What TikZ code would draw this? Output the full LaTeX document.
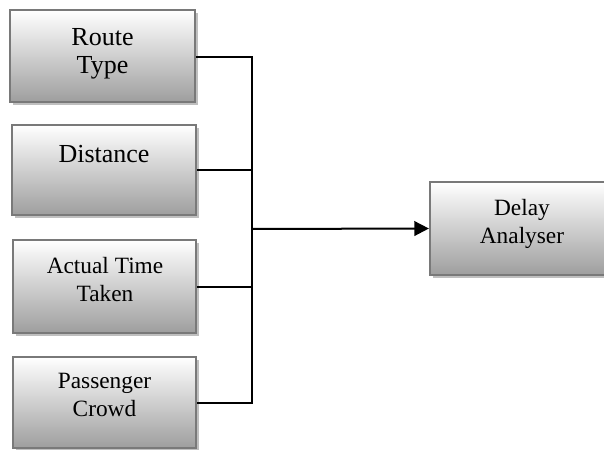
\documentclass[tikz,border=0pt]{standalone}
\usepackage{fontspec}
\setmainfont{LiberationSerif}[Extension=.ttf, UprightFont=*-Regular, BoldFont=*-Bold, ItalicFont=*-Italic]
\usetikzlibrary{arrows.meta,shadows}
\begin{document}
\begin{tikzpicture}[x=0.75pt,y=-0.75pt,
  box/.style={draw=gray!95!black, line width=1.6pt, rectangle, inner sep=0pt,
    top color=white, bottom color=black!38,
    drop shadow={shadow xshift=2.5pt, shadow yshift=-2.5pt, fill=black!25, opacity=1}},
  lbl/.style={align=center, inner sep=0pt, font=\rmfamily\fontsize{17.5pt}{21pt}\selectfont},
  biglbl/.style={align=center, inner sep=0pt, font=\rmfamily\fontsize{19.5pt}{21pt}\selectfont},
  conn/.style={line width=1.5pt, black},
]
\useasboundingbox (0,0) rectangle (604,450);
% boxes
\node[box, minimum width=138.75pt, minimum height=69pt] (b1) at (102.5,56) {};
\node[box, minimum width=138pt, minimum height=67.5pt] (b2) at (104,170) {};
\node[box, minimum width=137.25pt, minimum height=69.75pt] (b3) at (104.5,286.5) {};
\node[box, minimum width=137.25pt, minimum height=68.25pt] (b4) at (104.5,402.5) {};
\node[box, minimum width=138pt, minimum height=69.75pt] (d) at (522,228.5) {};
% labels
\node[biglbl] (t1) at (102.5,54) {Route\\Type};
\node[biglbl, anchor=base] (t2) at (104,162) {Distance};
\node[lbl] (t3) at (105,280) {Actual Time\\Taken};
\node[lbl] (t4) at (104.5,395) {Passenger\\Crowd};
\node[lbl] (t5) at (522,224) {Delay\\Analyser};
% connectors
\coordinate (j) at (252,229);
\coordinate (j1) at (252,57);
\coordinate (j4) at (252,403);
\draw[conn] (b1.east |- j1) -- (j1) -- (j4) -- (b4.east |- j4);
\draw[conn] (b2.east) -- (b2.east -| j);
\draw[conn] (b3.east) -- (b3.east -| j);
\draw[conn, -{Triangle[length=11pt, width=11pt]}] (j) -- (d.west);
\end{tikzpicture}
\end{document}
